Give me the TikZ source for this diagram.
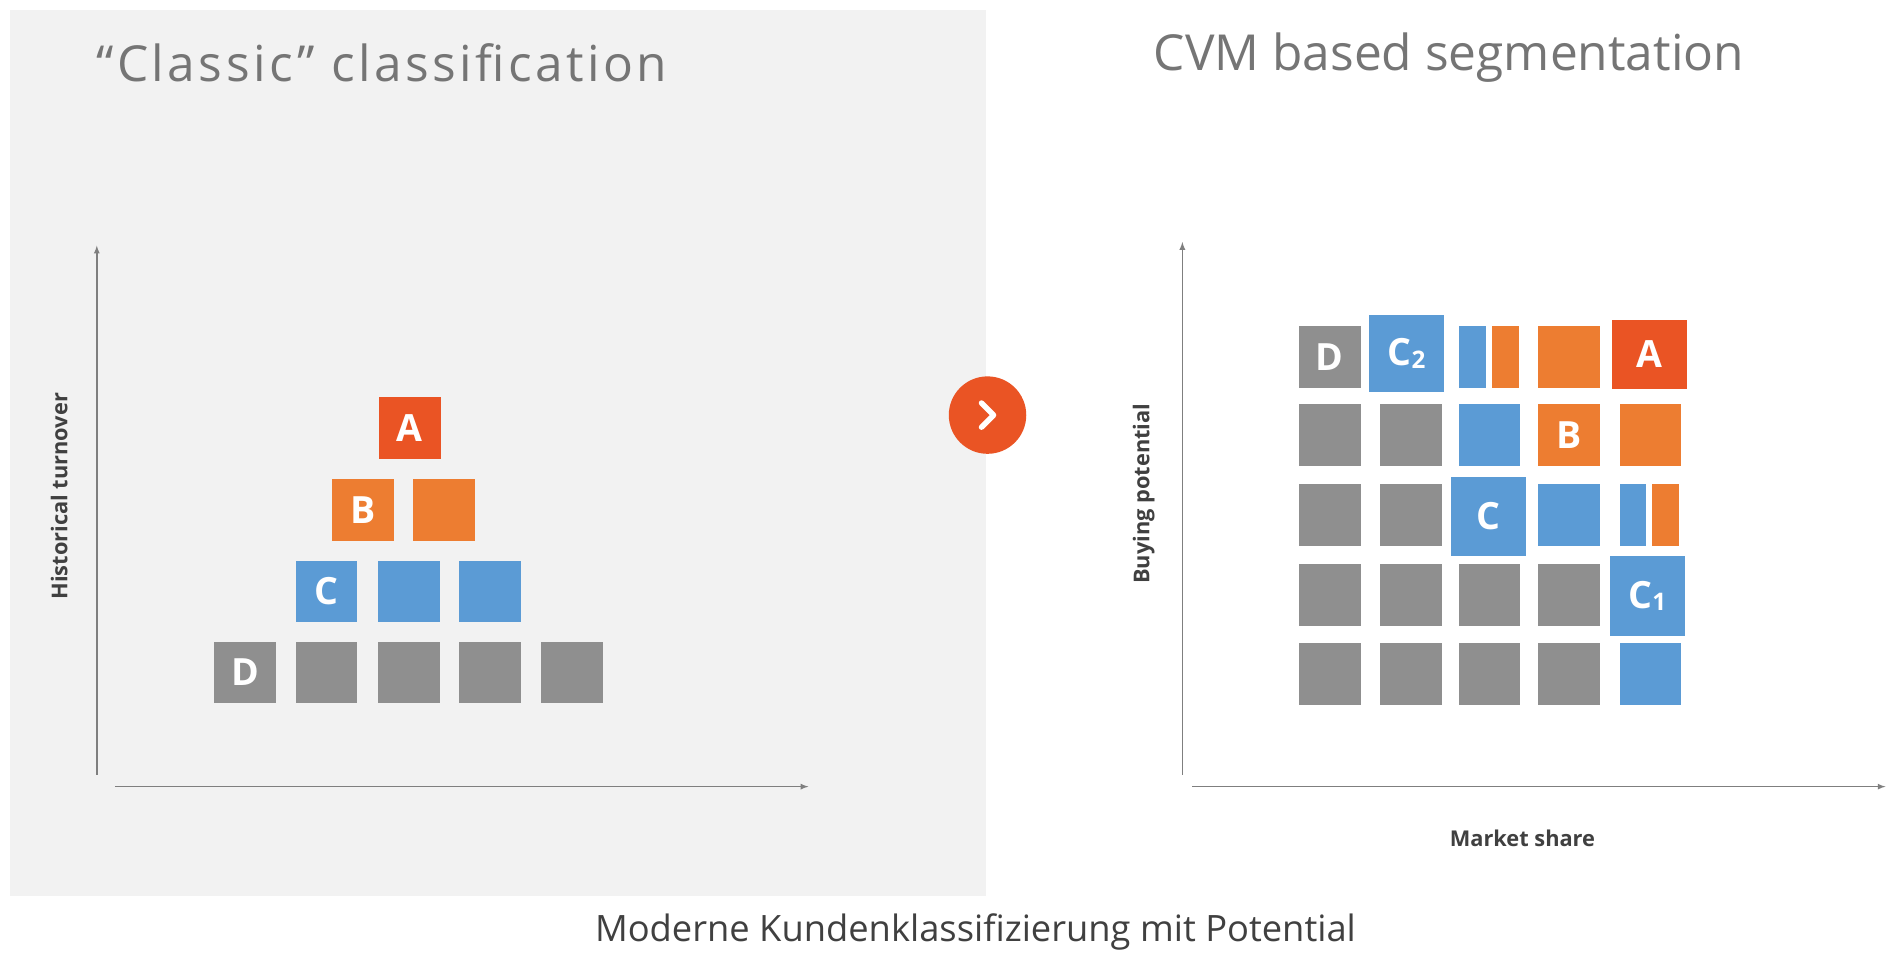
\documentclass[tikz,border=0pt]{standalone}
\usepackage{fontspec}
\setmainfont{Open Sans}
\usetikzlibrary{positioning}
\definecolor{cred}{HTML}{EA5424}
\definecolor{corange}{HTML}{ED7D31}
\definecolor{cblue}{HTML}{5B9BD5}
\definecolor{cgray}{HTML}{8F8F8F}
\definecolor{ctitle}{HTML}{757575}
\definecolor{caxis}{HTML}{7F7F7F}
\definecolor{ctext}{HTML}{404040}
\tikzset{
  cell/.style={anchor=north west, inner sep=0pt, minimum width=51pt, minimum height=51pt,
    text=white, font=\fontsize{31}{31}\selectfont\bfseries},
  bigcell/.style={cell, minimum width=62pt, minimum height=64pt},
  axis/.style={caxis, line width=1.2pt, -latex},
  axlabel/.style={text=ctext, font=\fontsize{18}{18}\selectfont\bfseries},
  title/.style={text=ctitle, font=\fontsize{41}{41}\selectfont}
}
\begin{document}
\begin{tikzpicture}[x=1pt,y=-1pt]
  \useasboundingbox (0,0) rectangle (1570,802);
  \fill[white] (0,0) rectangle (1570,802);
  \fill[black!5] (8,8) rectangle (815,740);
  % titles
  \node[title, anchor=west] (tleft) at (76,52) {\addfontfeature{LetterSpace=7}“Classic” classification};
  \node[title, anchor=west] (tright) at (950,48) {CVM based segmentation};
  % left axes
  \coordinate (ly0) at (80,640); \coordinate (ly1) at (80,203);
  \coordinate (lx0) at (95,650); \coordinate (lx1) at (668,650);
  \draw[axis] (ly0) -- (ly1);
  \draw[axis] (lx0) -- (lx1);
  \node[axlabel, rotate=90] (lylab) at (49,410) {Historical turnover};
  % pyramid
  \node[cell, fill=cred] (pa) at (313,328) {A};
  \node[cell, fill=corange] (pb1) at (274,396) {B};
  \node[cell, fill=corange] (pb2) at (341,396) {};
  \node[cell, fill=cblue] (pc1) at (244,463) {C};
  \node[cell, fill=cblue] (pc2) at (312,463) {};
  \node[cell, fill=cblue] (pc3) at (379,463) {};
  \node[cell, fill=cgray] (pd1) at (177,530) {D};
  \foreach \x [count=\i from 2] in {244,312,379,447}
    \node[cell, fill=cgray] (pd\i) at (\x,530) {};
  % arrow circle
  \node[circle, fill=cred, minimum size=64pt, inner sep=0pt] (go) at (816,343) {};
  \draw[white, line width=4.5pt, line cap=round, line join=round]
    ([xshift=-5pt,yshift=-10pt]go.center) -- ([xshift=5pt]go.center) -- ([xshift=-5pt,yshift=10pt]go.center);
  % right axes
  \coordinate (ry0) at (977,640); \coordinate (ry1) at (977,200);
  \coordinate (rx0) at (985,650); \coordinate (rx1) at (1558,650);
  \draw[axis] (ry0) -- (ry1);
  \draw[axis] (rx0) -- (rx1);
  \node[axlabel, rotate=90] (rylab) at (945,408) {Buying potential};
  \node[axlabel] (rxlab) at (1258,693) {Market share};
  % grid row 1
  \node[cell, fill=cgray] (g11) at (1073,269) {D};
  \node[bigcell, fill=cblue] (g12) at (1131,260) {C\fontsize{20}{20}\selectfont\raisebox{-2pt}{2}};
  \node[cell, fill=cblue, minimum width=23pt] (g13a) at (1205,269) {};
  \node[cell, fill=corange, minimum width=22pt] (g13b) at (1233,269) {};
  \node[cell, fill=corange] (g14) at (1271,269) {};
  \node[bigcell, fill=cred, minimum height=57pt] (g15) at (1332,264) {A};
  % row 2
  \node[cell, fill=cgray] (g21) at (1073,334) {};
  \node[cell, fill=cgray] (g22) at (1140,334) {};
  \node[cell, fill=cblue] (g23) at (1205,334) {};
  \node[cell, fill=corange] (g24) at (1271,334) {B};
  \node[cell, fill=corange] (g25) at (1338,334) {};
  % row 3
  \node[cell, fill=cgray] (g31) at (1073,400) {};
  \node[cell, fill=cgray] (g32) at (1140,400) {};
  \node[bigcell, fill=cblue, minimum height=65pt] (g33) at (1199,394) {C};
  \node[cell, fill=cblue] (g34) at (1271,400) {};
  \node[cell, fill=cblue, minimum width=22pt] (g35a) at (1338,400) {};
  \node[cell, fill=corange, minimum width=22pt] (g35b) at (1365,400) {};
  % row 4
  \foreach \x [count=\i] in {1073,1140,1205,1271}
    \node[cell, fill=cgray] (g4\i) at (\x,466) {};
  \node[bigcell, fill=cblue, minimum height=66pt] (g45) at (1330,459) {C\fontsize{20}{20}\selectfont\raisebox{-2pt}{1}};
  % row 5
  \foreach \x [count=\i] in {1073,1140,1205,1271}
    \node[cell, fill=cgray] (g5\i) at (\x,531) {};
  \node[cell, fill=cblue] (g55) at (1338,531) {};
  % caption
  \node[text=ctext, font=\fontsize{30}{30}\selectfont] (cap) at (806,770) {Moderne Kundenklassifizierung mit Potential};
\end{tikzpicture}
\end{document}
